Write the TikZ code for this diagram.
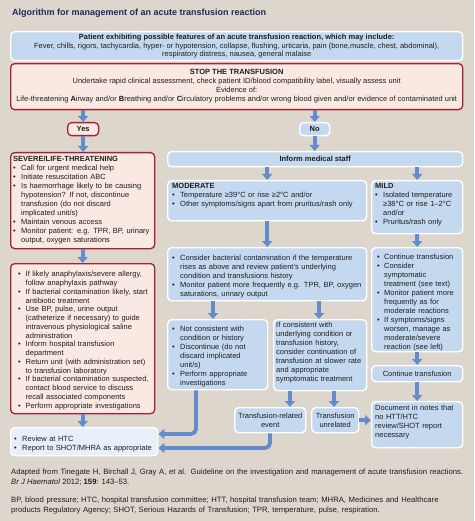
\documentclass[tikz,border=0pt]{standalone}
\usepackage{fontspec}
\setmainfont{Liberation Sans}
\usetikzlibrary{arrows.meta}
\definecolor{bg}{RGB}{220,214,204}
\definecolor{boxblue}{RGB}{196,216,240}
\definecolor{boxlight}{RGB}{230,239,250}
\definecolor{boxpink}{RGB}{249,233,226}
\definecolor{redline}{RGB}{168,32,52}
\definecolor{arrowblue}{RGB}{100,140,205}
\definecolor{titlec}{RGB}{35,40,95}
\definecolor{txtc}{RGB}{30,30,30}
\newlength\bh
\setlength\bh{8pt}
\newcommand\fs{\fontsize{7.5}{9}\selectfont}
\newcommand\ffs{\fontsize{7.7}{9.6}\selectfont}
\newcommand\bitem[1]{\par\noindent\hangindent=\bh\hangafter=1\makebox[\bh][l]{\textbullet}#1\par}
\tikzset{
  bbox/.style={draw=white, line width=1.4pt, fill=boxblue, rounded corners=4pt, anchor=north west, inner sep=0pt},
  rbox/.style={draw=redline, line width=1.3pt, fill=boxpink, rounded corners=4pt, anchor=north west, inner sep=0pt},
  txt/.style={anchor=north west, inner sep=0pt, font=\fs, align=left, text=txtc},
  ctxt/.style={font=\fs, align=center, text=txtc},
  arr/.style={draw=arrowblue, line width=3.8pt, -{Triangle[width=10pt,length=6pt]}},
}
\begin{document}
\begin{tikzpicture}[x=1pt,y=-1pt]
\useasboundingbox (0,0) rectangle (474,521);
\fill[bg] (0,0) rectangle (474,521);

\node[anchor=west, font=\fontsize{9}{11}\selectfont\bfseries, text=titlec, inner sep=0pt] (title) at (12,13) {Algorithm for management of an acute transfusion reaction};

% top boxes
\node[bbox, ctxt, font=\fontsize{7.5}{8.8}\selectfont, minimum width=452pt, minimum height=29pt, anchor=north west] (patient) at (10,31) {\textbf{Patient exhibiting possible features of an acute transfusion reaction, which may include:}\\Fever, chills, rigors, tachycardia, hyper- or hypotension, collapse, flushing, urticaria, pain (bone,muscle, chest, abdominal),\\respiratory distress, nausea, general malaise};

\node[rbox, ctxt, minimum width=452pt, minimum height=46pt, anchor=north west] (stop) at (10,63) {\textbf{STOP THE TRANSFUSION}\\Undertake rapid clinical assessment, check patient ID/blood compatibility label, visually assess unit\\Evidence of:\\Life-threatening \textbf{A}irway and/or \textbf{B}reathing and/or \textbf{C}irculatory problems and/or wrong blood given and/or evidence of contaminated unit};

\node[rbox, ctxt, minimum width=31pt, minimum height=13pt, anchor=north west] (yes) at (67,122) {\textbf{Yes}};
\node[bbox, ctxt, minimum width=30pt, minimum height=13pt, anchor=north west] (no) at (299,122) {\textbf{No}};

% left column
\node[rbox, minimum width=144pt, minimum height=96pt] (severe) at (10,152) {};
\node[txt, text width=140pt] (severe-t) at (13,156) {\noindent\textbf{SEVERE/LIFE-THREATENING}\par
\bitem{Call for urgent medical help}
\bitem{Initiate resuscitation ABC}
\bitem{Is haemorrhage likely to be causing\newline hypotension? If not, discontinue\newline transfusion (do not discard\newline implicated unit/s)}
\bitem{Maintain venous access}
\bitem{Monitor patient: e.g. TPR, BP, urinary\newline output, oxygen saturations}};

\node[rbox, minimum width=144pt, minimum height=150pt] (red2) at (10,263) {};
\node[txt, text width=135pt, font=\fontsize{7.5}{8.75}\selectfont] (red2-t) at (18,268) {\setlength\bh{7.5pt}%
\bitem{If likely anaphylaxis/severe allergy,\newline follow anaphylaxis pathway}
\bitem{If bacterial contamination likely, start\newline antibiotic treatment}
\bitem{Use BP, pulse, urine output\newline (catheterize if necessary) to guide\newline intravenous physiological saline\newline administration}
\bitem{Inform hospital transfusion\newline department}
\bitem{Return unit (with administration set)\newline to transfusion laboratory}
\bitem{If bacterial contamination suspected,\newline contact blood service to discuss\newline recall associated components}
\bitem{Perform appropriate investigations}};

\node[bbox, fill=boxlight, minimum width=147pt, minimum height=28pt] (review) at (10,427) {};
\node[txt, text width=140pt] (review-t) at (14,432) {\bitem{Review at HTC}
\bitem{Report to SHOT/MHRA as appropriate}};

% right part
\node[bbox, ctxt, minimum width=295pt, minimum height=15pt, anchor=north west] (inform) at (167,151) {\textbf{Inform medical staff}};

\node[bbox, minimum width=199pt, minimum height=40pt] (moderate) at (167,180) {};
\node[txt, text width=192pt] (moderate-t) at (172,183) {\noindent\textbf{MODERATE}\par
\bitem{Temperature ≥39°C or rise ≥2°C and/or}
\bitem{Other symptoms/signs apart from pruritus/rash only}};

\node[bbox, minimum width=91pt, minimum height=53pt] (mild) at (371,180) {};
\node[txt, text width=86pt] (mild-t) at (375,183) {\noindent\textbf{MILD}\par
\bitem{Isolated temperature\newline ≥38°C or rise 1–2°C\newline and/or}
\bitem{Pruritus/rash only}};

\node[bbox, minimum width=199pt, minimum height=53pt] (consider) at (167,247) {};
\node[txt, text width=192pt] (consider-t) at (172,251) {\bitem{Consider bacterial contamination if the temperature\newline rises as above and review patient’s underlying\newline condition and transfusions history}
\bitem{Monitor patient more frequently e.g. TPR, BP, oxygen\newline saturations, urinary output}};

\node[bbox, minimum width=91pt, minimum height=104pt] (mildlist) at (371,247) {};
\node[txt, text width=85pt] (mildlist-t) at (377,250) {\setlength\bh{7pt}%
\bitem{Continue transfusion}
\bitem{Consider\newline symptomatic\newline treatment (see text)}
\bitem{Monitor patient more\newline frequently as for\newline moderate reactions}
\bitem{If symptoms/signs\newline worsen, manage as\newline moderate/severe\newline reaction (see left)}};

\node[bbox, minimum width=100pt, minimum height=70pt] (notcons) at (167,319) {};
\node[txt, text width=94pt] (notcons-t) at (172,322) {\bitem{Not consistent with\newline condition or history}
\bitem{Discontinue (do not\newline discard implicated\newline unit/s)}
\bitem{Perform appropriate\newline investigations}};

\node[bbox, minimum width=93pt, minimum height=71pt] (ifcons) at (273,319) {};
\node[txt, text width=90pt] (ifcons-t) at (276,322) {If consistent with\newline underlying condition or\newline transfusion history,\newline consider continuation of\newline transfusion at slower rate\newline and appropriate\newline symptomatic treatment};

\node[bbox, ctxt, minimum width=91pt, minimum height=16pt] (cont) at (371,365) {Continue transfusion};

\node[bbox, ctxt, minimum width=71pt, minimum height=25pt] (trel) at (234,407) {Transfusion-related\\event};
\node[bbox, ctxt, minimum width=47pt, minimum height=25pt] (tunrel) at (311,407) {Transfusion\\unrelated};

\node[bbox, minimum width=91pt, minimum height=46pt] (doc) at (371,401) {};
\node[txt, text width=86pt, font=\fontsize{7.5}{8.8}\selectfont] (doc-t) at (375,405) {Document in notes that\newline no HTT/HTC\newline review/SHOT report\newline necessary};

% arrows
\draw[arr] (stop.south -| yes.north) -- (yes.north);
\draw[arr] (stop.south -| no.north) -- (no.north);
\draw[arr] (yes.south) -- (yes.south |- severe.north);
\draw[arr] (severe.south) -- (red2.north);
\draw[arr] (red2.south) -- (red2.south |- review.north);
\draw[arr] (no.south) -- (no.south |- inform.north);
\draw[arr] (inform.south -| moderate.north) -- (moderate.north);
\draw[arr] (inform.south -| mild.north) -- (mild.north);
\draw[arr] (moderate.south) -- (consider.north);
\draw[arr] (mild.south) -- (mildlist.north);
\draw[arr] (mildlist.south) -- (cont.north);
\draw[arr] (cont.south) -- (doc.north);
\coordinate (c1) at (213,0);
\coordinate (c2) at (319,0);
\draw[arr] (consider.south -| c1) -- (notcons.north -| c1);
\draw[arr] (consider.south -| c2) -- (ifcons.north -| c2);
\coordinate (c3) at (290,0);
\coordinate (c4) at (334,0);
\draw[arr] (ifcons.south -| c3) -- (trel.north -| c3);
\draw[arr] (ifcons.south -| c4) -- (tunrel.north -| c4);
\draw[arr] (tunrel.east) -- (tunrel.east -| doc.west);
\coordinate (j1) at (196,434);
\coordinate (j2) at (270,448);
\draw[arr, rounded corners=5pt] (notcons.south -| j1) |- (review.east |- j1);
\draw[arr, rounded corners=5pt] (trel.south -| j2) |- (review.east |- j2);

% footer
\node[anchor=north west, inner sep=0pt, text width=452pt, font=\ffs, align=justify, text=txtc] (foot1) at (11,469) {Adapted from Tinegate H, Birchall J, Gray A, et al. Guideline on the investigation and management of acute transfusion reactions.\linebreak \textit{Br J Haematol} 2012; \textbf{159}: 143–53.\par};
\node[anchor=north west, inner sep=0pt, text width=452pt, font=\ffs, align=left, text=txtc] (foot2) at (11,497) {BP, blood pressure; HTC, hospital transfusion committee; HTT, hospital transfusion team; MHRA, Medicines and Healthcare\newline products Regulatory Agency; SHOT, Serious Hazards of Transfusion; TPR, temperature, pulse, respiration.};
\end{tikzpicture}
\end{document}
